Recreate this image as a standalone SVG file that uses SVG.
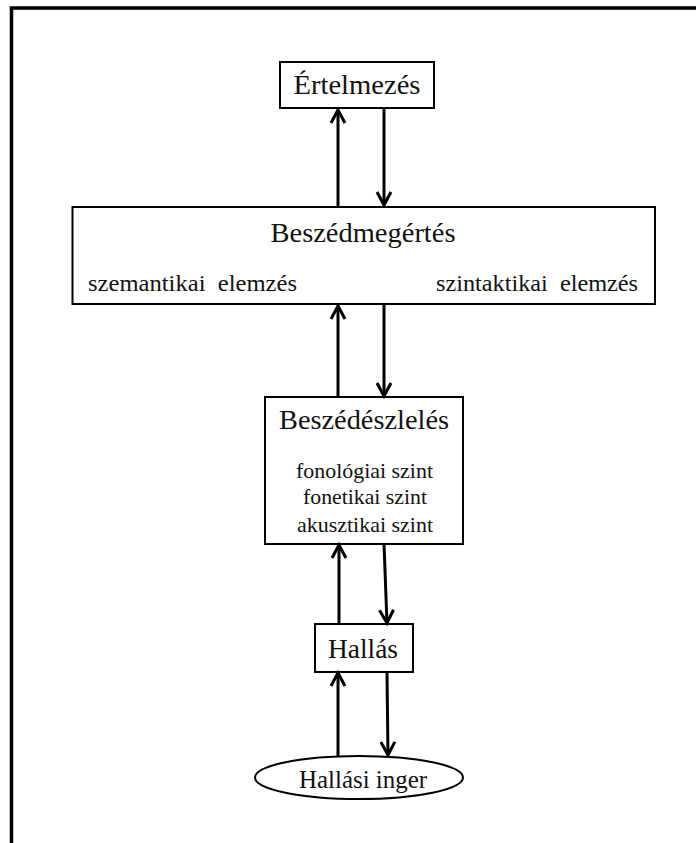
<svg xmlns="http://www.w3.org/2000/svg" width="696" height="843" viewBox="0 0 696 843">
<style>
  .box { fill: #fff; stroke: #000; stroke-width: 2; }
  .t { font-family: "Liberation Serif", "Times New Roman", serif; fill: #111; text-anchor: middle; }
  .title { font-size: 28px; }
  .sub { font-size: 22px; }
  .sub2 { font-size: 24px; }
  .conn line { stroke: #000; stroke-width: 3; marker-end: url(#arr); }
</style>
<defs>
  <marker id="arr" markerUnits="userSpaceOnUse" markerWidth="30" markerHeight="30" refX="0" refY="0" orient="auto" overflow="visible">
    <path d="M-13,-7 L0,0 L-13,7" fill="none" stroke="#000" stroke-width="3" stroke-linejoin="miter"/>
  </marker>
</defs>
<rect x="0" y="0" width="696" height="843" fill="#fff"/>
<path d="M11.5,843 V8 H696" fill="none" stroke="#000" stroke-width="3.5"/>

<g id="ertelmezes">
  <rect class="box" x="280" y="62" width="154" height="46"/>
  <text class="t title" x="357" y="94" textLength="127" lengthAdjust="spacingAndGlyphs">Értelmezés</text>
</g>

<g id="beszedmegertes">
  <rect class="box" x="72.5" y="207" width="582.5" height="97"/>
  <text class="t title" x="363" y="242" textLength="185" lengthAdjust="spacingAndGlyphs">Beszédmegértés</text>
  <text class="t sub2" x="192.5" y="291" textLength="209" lengthAdjust="spacingAndGlyphs" xml:space="preserve">szemantikai  elemzés</text>
  <text class="t sub2" x="537" y="291" textLength="202" lengthAdjust="spacingAndGlyphs" xml:space="preserve">szintaktikai  elemzés</text>
</g>

<g id="beszedeszleles">
  <rect class="box" x="265" y="397" width="198" height="147"/>
  <text class="t title" x="364" y="429" textLength="170" lengthAdjust="spacingAndGlyphs">Beszédészlelés</text>
  <text class="t sub" x="364.5" y="478" textLength="137" lengthAdjust="spacingAndGlyphs">fonológiai szint</text>
  <text class="t sub" x="365" y="504" textLength="124" lengthAdjust="spacingAndGlyphs">fonetikai szint</text>
  <text class="t sub" x="365" y="532" textLength="136" lengthAdjust="spacingAndGlyphs">akusztikai szint</text>
</g>

<g id="hallas">
  <rect class="box" x="315" y="624" width="98" height="48"/>
  <text class="t title" x="363" y="658" textLength="70" lengthAdjust="spacingAndGlyphs">Hallás</text>
</g>

<g id="hallasi-inger">
  <ellipse class="box" cx="359" cy="777.5" rx="104" ry="21.5"/>
  <text class="t" x="363" y="788" font-size="25" textLength="128" lengthAdjust="spacingAndGlyphs">Hallási inger</text>
</g>

<g id="connectors" class="conn">
  <line x1="338" y1="207" x2="338" y2="110"/>
  <line x1="384" y1="108" x2="384" y2="205"/>
  <line x1="338" y1="397" x2="338" y2="306"/>
  <line x1="384" y1="304" x2="384" y2="396"/>
  <line x1="339" y1="624" x2="339" y2="545"/>
  <line x1="384" y1="544" x2="387" y2="623"/>
  <line x1="338" y1="756" x2="338" y2="673"/>
  <line x1="387" y1="673" x2="388" y2="755"/>
</g>
</svg>
